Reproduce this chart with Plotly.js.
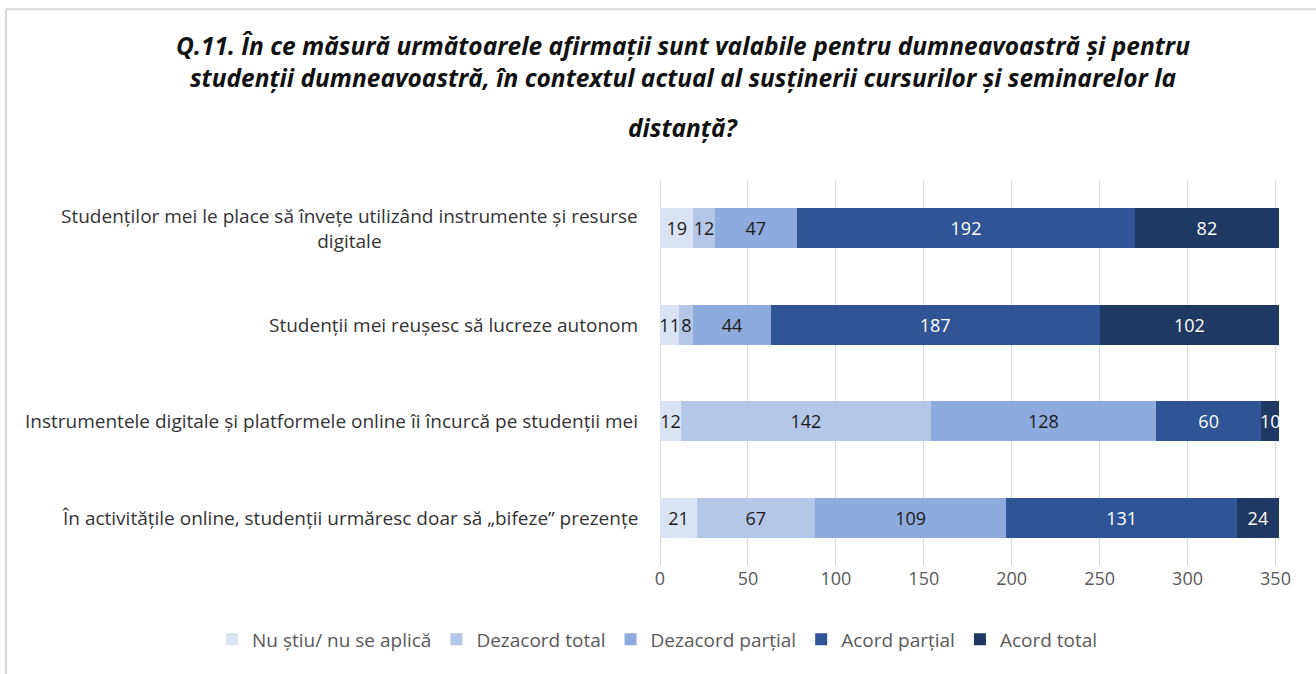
<!DOCTYPE html>
<html>
<head>
<meta charset="utf-8">
<script src="https://cdn.plot.ly/plotly-3.0.1.min.js"></script>
<style>html,body{margin:0;padding:0;background:#fff;}#chart{width:1316px;height:674px;}</style>
</head>
<body>
<div id="chart"></div>
<script>
var categories = [
  "Studenților mei le place să învețe utilizând instrumente și resurse<br>digitale",
  "Studenții mei reușesc să lucreze autonom",
  "Instrumentele digitale și platformele online îi încurcă pe studenții mei",
  "În activitățile online, studenții urmăresc doar să „bifeze” prezențe"
];
var seriesNames = ["Nu știu/ nu se aplică", "Dezacord total", "Dezacord parțial", "Acord parțial", "Acord total"];
var nuStiu = [19, 11, 12, 21];
var dezacordTotal = [12, 8, 142, 67];
var dezacordPartial = [47, 44, 128, 109];
var acordPartial = [192, 187, 60, 131];
var acordTotal = [82, 102, 10, 24];
var xTicks = [0, 50, 100, 150, 200, 250, 300, 350];

var seriesValues = [nuStiu, dezacordTotal, dezacordPartial, acordPartial, acordTotal];
var colors = ["#dae3f3", "#b4c7e7", "#8faadc", "#2f5597", "#203864"];
var textColors = ["#1a1a1a", "#1a1a1a", "#1a1a1a", "#ffffff", "#ffffff"];

var traces = seriesValues.map(function(vals, i) {
  return {
    type: "bar",
    orientation: "h",
    name: seriesNames[i],
    x: vals,
    y: categories,
    text: vals.map(String),
    textposition: "inside",
    insidetextanchor: "middle",
    constraintext: "none",
    textfont: {family: "Open Sans, sans-serif", size: 18, color: textColors[i]},
    marker: {color: colors[i], line: {width: 0}},
    hoverinfo: "x+name"
  };
});

var L = 660, R = 1279, T = 180, B = 566.5;
function px(x) { return (x - L) / (R - L); }
function py(y) { return (B - y) / (B - T); }

var annotations = categories.map(function(c) {
  return {
    xref: "paper", yref: "y", x: 0, y: c,
    xanchor: "right", yanchor: "middle", xshift: -20,
    text: c, showarrow: false, align: "center",
    font: {family: "Open Sans, sans-serif", size: 19, color: "#333333"}
  };
});
annotations.push({
  xref: "paper", yref: "paper", x: px(683), y: py(127),
  xanchor: "center", yanchor: "middle",
  text: "<b><i>distanță?</i></b>", showarrow: false,
  font: {family: "Open Sans, sans-serif", size: 24.5, color: "#111111"}
});

var layout = {
  width: 1316, height: 674,
  margin: {l: L, r: 1316 - R, t: T, b: 674 - B},
  paper_bgcolor: "#ffffff", plot_bgcolor: "#ffffff",
  barmode: "stack",
  bargap: 0.59,
  uniformtext: {mode: "show", minsize: 18},
  title: {
    text: "<b><i>Q.11. În ce măsură următoarele afirmații sunt valabile pentru dumneavoastră și pentru<br>studenții dumneavoastră, în contextul actual al susținerii cursurilor și seminarelor la</i></b>",
    font: {family: "Open Sans, sans-serif", size: 24.5, color: "#111111"},
    x: 683 / 1316, xanchor: "center", xref: "container",
    y: 1 - 55 / 674, yanchor: "middle", yref: "container"
  },
  xaxis: {
    range: [0, 352],
    tickvals: xTicks,
    ticktext: xTicks.map(String),
    showgrid: true, gridcolor: "#d9d9d9", gridwidth: 1,
    zeroline: true, zerolinecolor: "#d9d9d9", zerolinewidth: 1,
    showline: false, ticks: "",
    tickfont: {family: "Open Sans, sans-serif", size: 18, color: "#595959"},
    fixedrange: true
  },
  yaxis: {
    categoryorder: "array", categoryarray: categories.slice().reverse(),
    showticklabels: false, showgrid: false, zeroline: false, showline: false, ticks: "",
    fixedrange: true
  },
  legend: {
    orientation: "h", xref: "paper", x: px(212), xanchor: "left",
    yref: "paper", y: py(640), yanchor: "middle",
    font: {family: "Open Sans, sans-serif", size: 19, color: "#595959"},
    traceorder: "normal", itemwidth: 30, tracegroupgap: 0
  },
  annotations: annotations,
  shapes: [
    {type: "line", xref: "paper", yref: "paper", x0: px(6), x1: px(1320), y0: py(9), y1: py(9), line: {color: "#d6d6d6", width: 2}},
    {type: "line", xref: "paper", yref: "paper", x0: px(6), x1: px(6), y0: py(9), y1: py(680), line: {color: "#d6d6d6", width: 2}}
  ],
  showlegend: true
};

Plotly.newPlot("chart", traces, layout, {displayModeBar: false});
</script>
</body>
</html>
